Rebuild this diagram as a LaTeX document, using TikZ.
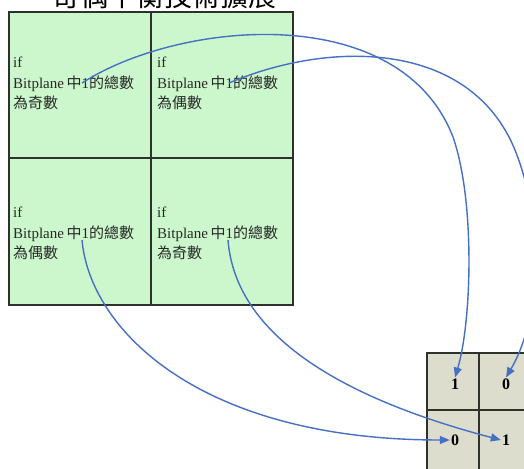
\documentclass[tikz,border=0pt]{standalone}
\usepackage{fontspec}
\setmainfont{Liberation Serif}
\newfontfamily\cjk{Noto Sans CJK TC}
\usetikzlibrary{arrows.meta}
\definecolor{cellgreen}{RGB}{204,247,204}
\definecolor{cellbeige}{RGB}{220,221,204}
\definecolor{gridline}{RGB}{45,50,45}
\definecolor{arrowblue}{RGB}{70,112,196}
\definecolor{txt}{RGB}{40,40,40}
\tikzset{
  greencell/.style={draw=gridline, fill=cellgreen, line width=1.1pt},
  beigecell/.style={draw=gridline, fill=cellbeige, line width=1.1pt},
  celltext/.style={anchor=base west, inner sep=0pt, text=txt, font=\fontsize{15}{18}\selectfont},
  digit/.style={inner sep=1pt, text=black, font=\fontsize{16}{18}\selectfont\bfseries},
  link/.style={draw=arrowblue, line width=1.4pt, -{Triangle[length=10pt,width=8pt]}},
  titletext/.style={anchor=base west, inner sep=0pt, text=black, font=\fontsize{28}{30}\selectfont\cjk}
}
\begin{document}
\begin{tikzpicture}[x=1pt,y=-1pt]
\useasboundingbox (0,0) rectangle (524,468);
\clip (0,0) rectangle (524,468);
\fill[white] (0,0) rectangle (524,468);
% title (cut at top edge, as in the reference)
\node[titletext] (title) at (52,7) {奇偶平衡技術擴展};
% green grid
\path[greencell] (9,12) rectangle (151,158);
\path[greencell] (151,12) rectangle (293,158);
\path[greencell] (9,158) rectangle (151,305);
\path[greencell] (151,158) rectangle (293,305);
% cell texts
\node[celltext] (a1) at (13,68) {if};
\node[celltext] (a2) at (13,89) {Bitplane\,{\cjk 中}1{\cjk 的總數}};
\node[celltext] (a3) at (13,109) {\cjk 為奇數};
\node[celltext] (b1) at (157,68) {if};
\node[celltext] (b2) at (157,89) {Bitplane\,{\cjk 中}1{\cjk 的總數}};
\node[celltext] (b3) at (157,109) {\cjk 為偶數};
\node[celltext] (c1) at (13,217) {if};
\node[celltext] (c2) at (13,238) {Bitplane\,{\cjk 中}1{\cjk 的總數}};
\node[celltext] (c3) at (13,258) {\cjk 為偶數};
\node[celltext] (e1) at (157,217) {if};
\node[celltext] (e2) at (157,238) {Bitplane\,{\cjk 中}1{\cjk 的總數}};
\node[celltext] (e3) at (157,258) {\cjk 為奇數};
% beige grid
\path[beigecell] (427,353) rectangle (479,410);
\path[beigecell] (479,353) rectangle (531,410);
\path[beigecell] (427,410) rectangle (479,472);
\path[beigecell] (479,410) rectangle (531,472);
\node[digit] (d1) at (455,384) {1};
\node[digit] (d2) at (506,384) {0};
\node[digit] (d3) at (455,440) {0};
\node[digit] (d4) at (506,440) {1};
% arrow start points
\coordinate (s1) at (82,83);
\coordinate (s2) at (229,83);
\coordinate (s3) at (82,240);
\coordinate (s4) at (228,240);
% arrows
\draw[link] (s1) .. controls (180,20) and (400,0) .. (453,137)
             .. controls (475,200) and (472,320) .. (d1.north);
\draw[link] (s2) .. controls (330,40) and (470,40) .. (515,150)
             .. controls (545,225) and (540,320) .. (d2.north);
\draw[link] (s3) .. controls (90,330) and (200,440) .. (d3.west);
\draw[link] (s4) .. controls (235,330) and (330,395) .. (d4.west);
\end{tikzpicture}
\end{document}
